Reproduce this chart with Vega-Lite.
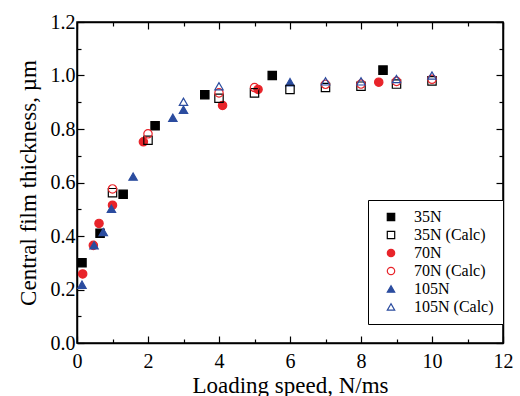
{
  "$schema": "https://vega.github.io/schema/vega-lite/v6.json",
  "width": 426,
  "height": 321,
  "autosize": {"type": "none"},
  "padding": {"left": 77, "top": 22, "right": 17, "bottom": 53},
  "background": "white",
  "config": {
    "view": {"stroke": "black", "strokeWidth": 1.5},
    "font": "Liberation Serif",
    "legend": {"labelFont": "Liberation Serif", "titleFont": "Liberation Serif"},
    "axis": {
      "domainColor": "black",
      "domainWidth": 1.5,
      "tickColor": "black",
      "tickWidth": 1.2,
      "grid": false,
      "labelFont": "Liberation Serif",
      "labelFontSize": 20,
      "labelColor": "black",
      "titleFont": "Liberation Serif",
      "titleFontSize": 23,
      "titleFontWeight": "normal",
      "titleColor": "black"
    }
  },
  "datasets": {
    "pts": [
      {"series": "35N", "speed": 0.14, "thickness": 0.30},
      {"series": "35N", "speed": 0.65, "thickness": 0.41},
      {"series": "35N", "speed": 1.3, "thickness": 0.556},
      {"series": "35N", "speed": 2.2, "thickness": 0.812},
      {"series": "35N", "speed": 3.6, "thickness": 0.928},
      {"series": "35N", "speed": 5.5, "thickness": 1.0},
      {"series": "35N", "speed": 8.62, "thickness": 1.02},
      {"series": "70N", "speed": 0.16, "thickness": 0.258},
      {"series": "70N", "speed": 0.46, "thickness": 0.365},
      {"series": "70N", "speed": 0.62, "thickness": 0.447},
      {"series": "70N", "speed": 1.0, "thickness": 0.515},
      {"series": "70N", "speed": 1.87, "thickness": 0.752},
      {"series": "70N", "speed": 4.1, "thickness": 0.888},
      {"series": "70N", "speed": 5.1, "thickness": 0.948},
      {"series": "70N", "speed": 8.5, "thickness": 0.975},
      {"series": "105N", "speed": 0.14, "thickness": 0.218},
      {"series": "105N", "speed": 0.48, "thickness": 0.365},
      {"series": "105N", "speed": 0.74, "thickness": 0.415},
      {"series": "105N", "speed": 0.97, "thickness": 0.502},
      {"series": "105N", "speed": 1.58, "thickness": 0.622},
      {"series": "105N", "speed": 2.7, "thickness": 0.842},
      {"series": "105N", "speed": 3.0, "thickness": 0.872},
      {"series": "105N", "speed": 6.0, "thickness": 0.975},
      {"series": "35N (Calc)", "speed": 1.0, "thickness": 0.562},
      {"series": "35N (Calc)", "speed": 2.0, "thickness": 0.758},
      {"series": "35N (Calc)", "speed": 4.0, "thickness": 0.915},
      {"series": "35N (Calc)", "speed": 5.0, "thickness": 0.935},
      {"series": "35N (Calc)", "speed": 6.0, "thickness": 0.948},
      {"series": "35N (Calc)", "speed": 7.0, "thickness": 0.955},
      {"series": "35N (Calc)", "speed": 8.0, "thickness": 0.96},
      {"series": "35N (Calc)", "speed": 9.0, "thickness": 0.968},
      {"series": "35N (Calc)", "speed": 10.0, "thickness": 0.98},
      {"series": "70N (Calc)", "speed": 1.0, "thickness": 0.576},
      {"series": "70N (Calc)", "speed": 2.0, "thickness": 0.782},
      {"series": "70N (Calc)", "speed": 4.0, "thickness": 0.935},
      {"series": "70N (Calc)", "speed": 5.0, "thickness": 0.955},
      {"series": "70N (Calc)", "speed": 7.0, "thickness": 0.967},
      {"series": "70N (Calc)", "speed": 8.0, "thickness": 0.968},
      {"series": "70N (Calc)", "speed": 9.0, "thickness": 0.978},
      {"series": "70N (Calc)", "speed": 10.0, "thickness": 0.986},
      {"series": "105N (Calc)", "speed": 3.0, "thickness": 0.902},
      {"series": "105N (Calc)", "speed": 4.0, "thickness": 0.96},
      {"series": "105N (Calc)", "speed": 7.0, "thickness": 0.978},
      {"series": "105N (Calc)", "speed": 8.0, "thickness": 0.978},
      {"series": "105N (Calc)", "speed": 9.0, "thickness": 0.987},
      {"series": "105N (Calc)", "speed": 10.0, "thickness": 1.0}
    ]
  },
  "resolve": {"axis": {"x": "independent", "y": "independent"}},
  "layer": [
    {
      "data": {"name": "pts"},
      "mark": {"type": "point", "strokeWidth": 1.2, "size": 70, "opacity": 1},
      "encoding": {
        "x": {
          "field": "speed", "type": "quantitative",
          "scale": {"domain": [0, 12], "nice": false, "zero": false},
          "axis": {
            "orient": "bottom",
            "title": "Loading speed, N/ms",
            "values": [0,1,2,3,4,5,6,7,8,9,10,11,12],
            "labelExpr": "datum.value % 2 === 0 ? datum.label : ''",
            "tickSize": {"condition": {"test": "datum.value % 2 === 0", "value": -7}, "value": -4},
            "labelPadding": 15,
            "titlePadding": 3,
            "labelFlush": false
          }
        },
        "y": {
          "field": "thickness", "type": "quantitative",
          "scale": {"domain": [0, 1.2], "nice": false, "zero": false},
          "axis": {
            "orient": "left",
            "title": "Central film thickness, µm",
            "values": [0,0.1,0.2,0.3,0.4,0.5,0.6,0.7,0.8,0.9,1.0,1.1,1.2],
            "format": ".1f",
            "labelExpr": "round(datum.value * 10) % 2 === 0 ? datum.label : ''",
            "tickSize": {"condition": {"test": "round(datum.value * 10) % 2 === 0", "value": -7}, "value": -4},
            "labelPadding": 9,
            "titlePadding": 10,
            "labelFlush": false
          }
        },
        "shape": {
          "field": "series", "type": "nominal",
          "scale": {
            "domain": ["35N", "35N (Calc)", "70N", "70N (Calc)", "105N", "105N (Calc)"],
            "range": ["square", "square", "circle", "circle", "triangle-up", "triangle-up"]
          },
          "legend": {
            "title": null, "orient": "none", "legendX": 291, "legendY": 178,
            "strokeColor": "black", "padding": 9, "fillColor": "white",
            "labelFont": "Liberation Serif", "labelFontSize": 16, "labelColor": "black",
            "symbolSize": 55, "symbolStrokeWidth": 1.2, "rowPadding": 2, "labelOffset": 15,
            "symbolOffset": 6
          }
        },
        "stroke": {
          "field": "series", "type": "nominal",
          "scale": {
            "domain": ["35N", "35N (Calc)", "70N", "70N (Calc)", "105N", "105N (Calc)"],
            "range": ["#000000", "#000000", "#e8242a", "#e8242a", "#2b4c9f", "#2b4c9f"]
          }
        },
        "fill": {
          "field": "series", "type": "nominal",
          "scale": {
            "domain": ["35N", "35N (Calc)", "70N", "70N (Calc)", "105N", "105N (Calc)"],
            "range": ["#000000", "transparent", "#e8242a", "transparent", "#2b4c9f", "transparent"]
          }
        }
      }
    },
    {
      "data": {"values": [{"speed": 0, "thickness": 0}]},
      "mark": {"type": "point", "opacity": 0},
      "encoding": {
        "x": {
          "field": "speed", "type": "quantitative",
          "axis": {
            "orient": "top", "title": null, "labels": false,
            "values": [0,1,2,3,4,5,6,7,8,9,10,11,12],
            "tickSize": {"condition": {"test": "datum.value % 2 === 0", "value": -7}, "value": -4}
          }
        },
        "y": {
          "field": "thickness", "type": "quantitative",
          "axis": {
            "orient": "right", "title": null, "labels": false,
            "values": [0,0.1,0.2,0.3,0.4,0.5,0.6,0.7,0.8,0.9,1.0,1.1,1.2],
            "tickSize": {"condition": {"test": "round(datum.value * 10) % 2 === 0", "value": -7}, "value": -4}
          }
        }
      }
    }
  ]
}
